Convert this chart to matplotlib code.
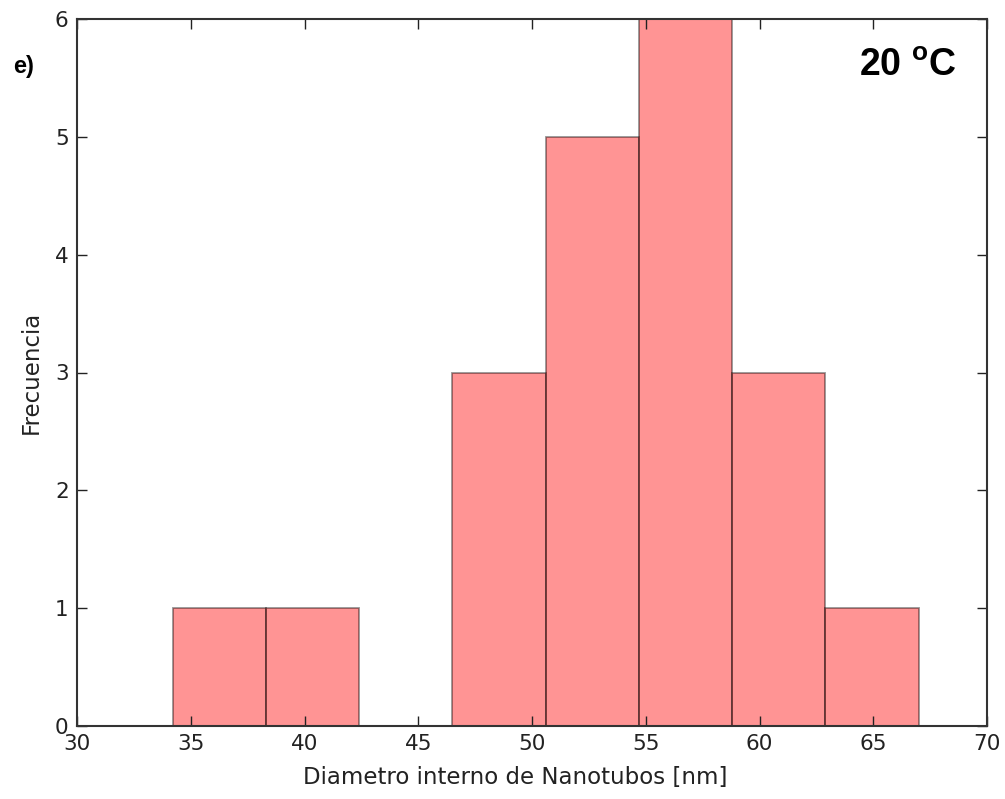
import matplotlib
matplotlib.use("Agg")
import matplotlib.pyplot as plt
import numpy as np

# Histogram bins (nm) and counts per bin
bin_edges = [34.2, 38.3, 42.4, 46.5, 50.6, 54.7, 58.8, 62.9, 67.0]
counts = [1, 1, 0, 3, 5, 6, 3, 1]

x_ticks = [30, 35, 40, 45, 50, 55, 60, 65, 70]
y_ticks = [0, 1, 2, 3, 4, 5, 6]

plt.rcParams['mathtext.fontset'] = 'custom'
plt.rcParams['mathtext.bf'] = 'Liberation Sans:bold'
plt.rcParams['mathtext.rm'] = 'Liberation Sans'

fig = plt.figure(figsize=(10.05, 7.99), dpi=100)
ax = fig.add_axes([77 / 1005, 1 - 726 / 799, 910 / 1005, 707 / 799])

centers = [(bin_edges[i] + bin_edges[i + 1]) / 2 for i in range(len(counts))]
ax.hist(centers, bins=bin_edges, weights=counts, color='red', alpha=0.42,
        edgecolor='black', linewidth=1.3)

ax.set_xlim(30, 70)
ax.set_ylim(0, 6)
ax.set_xticks(x_ticks)
ax.set_yticks(y_ticks)
ax.tick_params(direction='in', top=True, right=True, length=7, width=1,
               labelsize=15.5, pad=6, colors='#222222', labelcolor='#222222')
for s in ax.spines.values():
    s.set_linewidth(1.5)
    s.set_color('#333333')

ax.set_xlabel('Diametro interno de Nanotubos [nm]', fontsize=16.5, color='#222222')
ax.xaxis.set_label_coords(0.482, -0.073, transform=ax.transAxes)
ax.xaxis.label.set_va('center')
ax.set_ylabel('Frecuencia', fontsize=16.5, color='#222222', labelpad=9)

fig.text(24 / 1005, 1 - 66 / 799, 'e)', fontsize=17, fontweight='bold',
         family='Liberation Sans', va='center', ha='center', color='black')
fig.text(908 / 1005, 1 - 66 / 799, r'20 $^{\mathbf{o}}$C', fontsize=27,
         fontweight='bold', family='Liberation Sans', va='center', ha='center',
         color='black')

fig.savefig('out.png', dpi=100)
